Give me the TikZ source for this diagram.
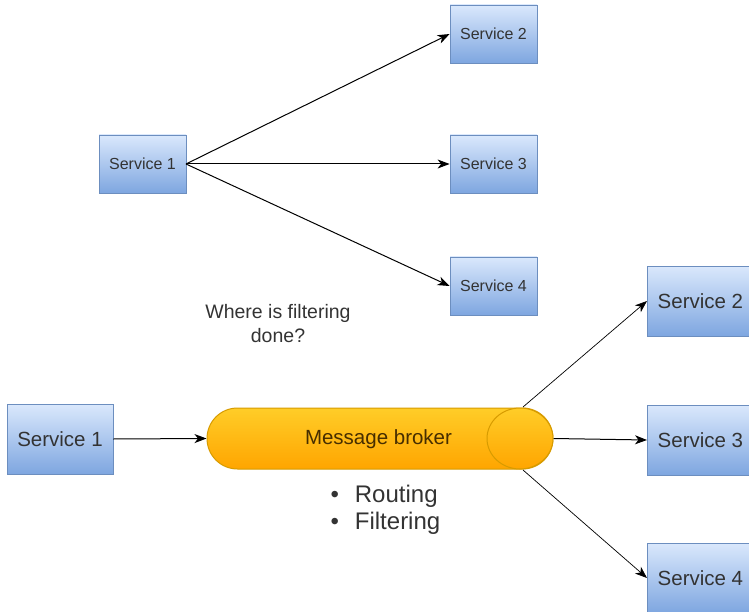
\documentclass[tikz,border=0pt]{standalone}
\usepackage{fontspec}
\setmainfont{Liberation Sans}
\usetikzlibrary{arrows.meta,shapes.geometric}
\definecolor{svcTop}{HTML}{DAE8FC}
\definecolor{svcBot}{HTML}{7EA6E0}
\definecolor{svcLine}{HTML}{6C8EBF}
\definecolor{brkTop}{HTML}{FFCD28}
\definecolor{brkBot}{HTML}{FFA500}
\definecolor{brkLine}{HTML}{D79B00}
\definecolor{txt}{HTML}{333333}
\tikzset{
  svc/.style={draw=svcLine, line width=0.8pt, top color=svcTop, bottom color=svcBot,
    text=txt, font=\fontsize{16}{18}\selectfont, inner sep=0pt},
  small/.style={svc, minimum width=87pt, minimum height=58pt},
  big/.style={svc, minimum width=106pt, minimum height=70pt, font=\fontsize{20.5}{24}\selectfont},
  link/.style={line width=1pt, -{Stealth[length=12pt,width=9pt,inset=3.5pt]}},
  thinlink/.style={line width=0.7pt, -{Stealth[length=12pt,width=9pt,inset=3.5pt]}},
  bullet/.style={anchor=west, text=txt, font=\fontsize{24}{28}\selectfont},
}
\begin{document}
\begin{tikzpicture}[x=1pt,y=-1pt]
\useasboundingbox (0,0) rectangle (749,612);

% upper diagram: direct service-to-service calls
\node[small] (a1) at (142.5,164) {Service 1};
\node[small] (a2) at (493.5,34) {Service 2};
\node[small] (a3) at (493.5,164) {Service 3};
\node[small] (a4) at (493.5,286) {Service 4};
\coordinate (a1out) at (186,164);
\draw[link] (a1out) -- (a2.west);
\draw[link] (a1out) -- (a3.west);
\draw[link] (a1out) -- (a4.west);

\node[text=txt, align=center, font=\fontsize{19.5}{24}\selectfont] (q) at (278,324)
  {Where is filtering\\done?};

% lower diagram: calls through a message broker
\node[big] (b1) at (60,439) {Service 1};
\node[big, anchor=west] (b2) at (647,301) {Service 2};
\node[big, anchor=west] (b3) at (647,440) {Service 3};
\node[big, anchor=west] (b4) at (647,578) {Service 4};

\node[draw=brkLine, line width=1pt, top color=brkTop, bottom color=brkBot,
  rounded corners=30.5pt, minimum width=346pt, minimum height=61pt, inner sep=0pt]
  (brk) at (380,438.5) {};
\node[ellipse, draw=brkLine, line width=1pt, top color=brkTop, bottom color=brkBot,
  minimum width=66pt, minimum height=61pt, inner sep=0pt] (cap) at (520,438.5) {};
\node[text=black!72!brkBot, font=\fontsize{20.5}{24}\selectfont] (brklbl) at (378.5,439)
  {Message broker};

\coordinate (capTop) at (523,407);
\coordinate (capBot) at (523,470);
\draw[link] (b1.east) -- (brk.west);
\draw[link] (brk.east) -- (b3.west);
\draw[thinlink] (capTop) -- (b2.west);
\draw[thinlink] (capBot) -- (b4.west);

\node[bullet] (r) at (327,496) {\textbullet\hspace{16pt}Routing};
\node[bullet] (f) at (327,523) {\textbullet\hspace{16pt}Filtering};
\end{tikzpicture}
\end{document}
